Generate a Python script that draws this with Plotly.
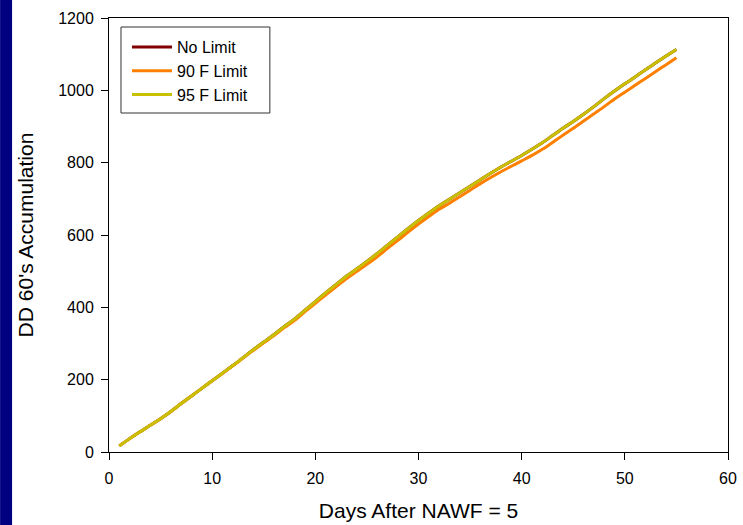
import plotly.graph_objects as go

days = list(range(1, 56))

no_limit = [17, 37, 56, 74, 92, 112, 134, 155, 176, 197,
            218, 239, 261, 283, 304, 325, 347, 368, 392, 416,
            440, 463, 486, 506, 527, 549, 572, 595, 618, 640,
            661, 681, 699, 717, 735, 753, 771, 788, 804, 820,
            837, 855, 875, 895, 914, 934, 955, 977, 998, 1018,
            1037, 1057, 1076, 1095, 1113]

limit_95 = list(no_limit)

limit_90 = [17, 37, 56, 74, 92, 112, 134, 155, 176, 197,
            217, 238, 260, 281, 302, 322, 344, 364, 388, 411,
            434, 457, 479, 499, 519, 540, 563, 585, 608, 630,
            651, 671, 688, 706, 724, 742, 759, 775, 790, 805,
            820, 837, 856, 876, 895, 915, 935, 955, 976, 995,
            1014, 1033, 1052, 1071, 1090]

series_names = ["No Limit", "90 F Limit", "95 F Limit"]
series_colors = ["#800000", "#FF8000", "#C8C000"]
series_values = [no_limit, limit_90, limit_95]

x_ticks = [0, 10, 20, 30, 40, 50, 60]
y_ticks = [0, 200, 400, 600, 800, 1000, 1200]

fig = go.Figure()
for name, color, vals in zip(series_names, series_colors, series_values):
    fig.add_trace(go.Scatter(x=days, y=vals, mode="lines", name=name,
                             line=dict(color=color, width=3, shape="spline", smoothing=0.8)))

L, R, T, B = 109, 14.5, 18, 73
W, H = 743, 525
pw = W - L - R
ph = H - T - B

def px(xp):
    return (xp - L) / pw

def py(yp):
    return (H - B - yp) / ph

# navy strip at the left edge
fig.add_shape(type="rect", xref="paper", yref="paper",
              x0=px(0), x1=px(12), y0=py(H + 5), y1=py(-5),
              fillcolor="#000080", line=dict(width=0), layer="below")
# legend frame
fig.add_shape(type="rect", xref="paper", yref="paper",
              x0=px(121), x1=px(270), y0=py(113), y1=py(27),
              fillcolor="white", line=dict(color="#333333", width=1), layer="below")

font = "Liberation Sans, Arial, sans-serif"
fig.update_layout(
    width=W, height=H,
    margin=dict(l=L, r=R, t=T, b=B, autoexpand=False),
    paper_bgcolor="white", plot_bgcolor="rgba(0,0,0,0)",
    font=dict(family=font, color="black", size=16),
    showlegend=True,
    legend=dict(x=px(127), y=py(30), xanchor="left", yanchor="top",
                borderwidth=0, bgcolor="rgba(0,0,0,0)",
                font=dict(size=16, family=font), itemwidth=40,
                tracegroupgap=0),
    xaxis=dict(range=[0, 60], tickvals=x_ticks, ticks="outside", ticklen=7, tickcolor="black",
               showline=True, linecolor="black", linewidth=1, mirror=True,
               showgrid=False, zeroline=False, ticklabelstandoff=5,
               tickfont=dict(size=16, family=font),
               title=dict(text="Days After NAWF = 5", font=dict(size=21, family=font), standoff=17)),
    yaxis=dict(range=[0, 1200], tickvals=y_ticks, ticks="outside", ticklen=7, tickcolor="black",
               showline=True, linecolor="black", linewidth=1, mirror=True,
               showgrid=False, zeroline=False, ticklabelstandoff=4,
               tickfont=dict(size=16, family=font),
               title=dict(text="DD 60's Accumulation", font=dict(size=21, family=font), standoff=18)),
)

fig.write_html("out.html", config={"displayModeBar": False},
               post_script="document.body.style.margin='0';document.body.style.overflow='hidden';")
